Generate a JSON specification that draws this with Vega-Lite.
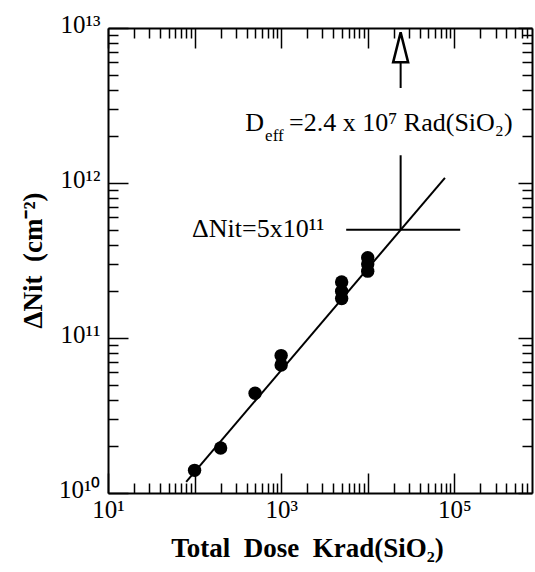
{
  "$schema": "https://vega.github.io/schema/vega-lite/v6.json",
  "width": 424,
  "height": 465,
  "autosize": {"type": "none"},
  "padding": {"left": 108, "top": 28, "right": 3, "bottom": 79},
  "background": "white",
  "config": {
    "font": "Liberation Serif",
    "view": {"stroke": null},
    "axis": {
      "grid": false,
      "domainColor": "black",
      "domainWidth": 2,
      "tickColor": "black",
      "tickWidth": 1.5,
      "labelColor": "black",
      "titleColor": "black",
      "labelFont": "Liberation Serif",
      "titleFont": "Liberation Serif",
      "labelFontSize": 25,
      "labelOverlap": false,
      "labelFlush": false,
      "labelBound": false
    }
  },
  "datasets": {
    "points": [
      {"dose": 100, "nit": 14000000000},
      {"dose": 200, "nit": 19500000000},
      {"dose": 500, "nit": 44000000000},
      {"dose": 1000, "nit": 67000000000},
      {"dose": 1000, "nit": 77000000000},
      {"dose": 5000, "nit": 180000000000},
      {"dose": 5000, "nit": 200000000000},
      {"dose": 5000, "nit": 230000000000},
      {"dose": 10000, "nit": 270000000000},
      {"dose": 10000, "nit": 300000000000},
      {"dose": 10000, "nit": 330000000000}
    ],
    "fit": [
      {"dose": 80, "nit": 11800000000},
      {"dose": 78000, "nit": 1080000000000}
    ],
    "segments": [
      {"x": 5640, "x2": 117000, "y": 500000000000, "y2": 500000000000},
      {"x": 24000, "x2": 24000, "y": 1510000000000, "y2": 500000000000},
      {"x": 24000, "x2": 24000, "y": 6000000000000, "y2": 4100000000000}
    ],
    "arrowhead": [{"x": 24000, "y": 7500000000000}],
    "notes": [
      {"x": 384, "y": 2440000000000, "t": "D", "k": "main"},
      {"x": 653, "y": 2000000000000, "t": "eff", "k": "small"},
      {"x": 1236, "y": 2440000000000, "t": "=2.4 x 10⁷ Rad(SiO₂)", "k": "main"},
      {"x": 93.5, "y": 505000000000, "t": "ΔNit=5x10¹¹", "k": "main"}
    ]
  },
  "layer": [
    {
      "data": {"name": "points"},
      "mark": {"type": "circle", "color": "black", "opacity": 1, "size": 180},
      "encoding": {
        "x": {
          "field": "dose", "type": "quantitative",
          "scale": {"type": "log", "domain": [10, 790000], "nice": false},
          "axis": {
            "orient": "bottom",
            "values": [10,20,30,40,50,60,70,80,90,100,200,300,400,500,600,700,800,900,1000,2000,3000,4000,5000,6000,7000,8000,9000,10000,20000,30000,40000,50000,60000,70000,80000,90000,100000,200000,300000,400000,500000,600000,700000],
            "tickSize": {"condition": {"test": "abs(log(datum.value)/LN10 - round(log(datum.value)/LN10)) < 0.000001", "value": -20}, "value": -10},
            "labelExpr": "datum.value == 10 ? '10¹' : datum.value == 1000 ? '10³' : datum.value == 100000 ? '10⁵' : ''",
            "labelPadding": 24,
            "title": "Total\u2002Dose\u2002Krad(SiO₂)",
            "titleFontSize": 27,
            "titleFontWeight": "bold",
            "titleX": 199,
            "titleY": 55,
            "titleBaseline": "middle",
            "titleAlign": "center"
          }
        },
        "y": {
          "field": "nit", "type": "quantitative",
          "scale": {"type": "log", "domain": [10000000000, 10000000000000], "nice": false},
          "axis": {
            "orient": "left",
            "values": [10000000000,20000000000,30000000000,40000000000,50000000000,60000000000,70000000000,80000000000,90000000000,100000000000,200000000000,300000000000,400000000000,500000000000,600000000000,700000000000,800000000000,900000000000,1000000000000,2000000000000,3000000000000,4000000000000,5000000000000,6000000000000,7000000000000,8000000000000,9000000000000,10000000000000],
            "tickSize": {"condition": {"test": "abs(log(datum.value)/LN10 - round(log(datum.value)/LN10)) < 0.000001", "value": -20}, "value": -10},
            "labelExpr": "datum.value == 10000000000 ? '10¹⁰' : datum.value == 100000000000 ? '10¹¹' : datum.value == 1000000000000 ? '10¹²' : datum.value == 10000000000000 ? '10¹³' : ''",
            "labelPadding": 28,
            "labelOffset": -4,
            "labelBaseline": "middle",
            "title": "ΔNit\u2002(cm⁻²)",
            "titleFontSize": 27,
            "titleFontWeight": "bold",
            "titleX": -75,
            "titleY": 232,
            "titleAngle": -90,
            "titleBaseline": "middle",
            "titleAlign": "center"
          }
        }
      }
    },
    {
      "data": {"name": "fit"},
      "mark": {"type": "line", "color": "black", "strokeWidth": 2},
      "encoding": {
        "x": {
          "field": "dose", "type": "quantitative",
          "scale": {"type": "log", "domain": [10, 790000], "nice": false},
          "axis": {
            "orient": "top",
            "values": [10,20,30,40,50,60,70,80,90,100,200,300,400,500,600,700,800,900,1000,2000,3000,4000,5000,6000,7000,8000,9000,10000,20000,30000,40000,50000,60000,70000,80000,90000,100000,200000,300000,400000,500000,600000,700000],
            "tickSize": {"condition": {"test": "abs(log(datum.value)/LN10 - round(log(datum.value)/LN10)) < 0.000001", "value": -20}, "value": -10},
            "labels": false,
            "title": null
          }
        },
        "y": {
          "field": "nit", "type": "quantitative",
          "scale": {"type": "log", "domain": [10000000000, 10000000000000], "nice": false},
          "axis": {
            "orient": "right",
            "values": [10000000000,20000000000,30000000000,40000000000,50000000000,60000000000,70000000000,80000000000,90000000000,100000000000,200000000000,300000000000,400000000000,500000000000,600000000000,700000000000,800000000000,900000000000,1000000000000,2000000000000,3000000000000,4000000000000,5000000000000,6000000000000,7000000000000,8000000000000,9000000000000,10000000000000],
            "tickSize": {"condition": {"test": "abs(log(datum.value)/LN10 - round(log(datum.value)/LN10)) < 0.000001", "value": -14}, "value": -10},
            "labels": false,
            "title": null
          }
        }
      }
    },
    {
      "data": {"name": "segments"},
      "mark": {"type": "rule", "color": "black", "strokeWidth": 2},
      "encoding": {
        "x": {"field": "x", "type": "quantitative", "scale": {"type": "log", "domain": [10, 790000], "nice": false}, "axis": null},
        "x2": {"field": "x2"},
        "y": {"field": "y", "type": "quantitative", "scale": {"type": "log", "domain": [10000000000, 10000000000000], "nice": false}, "axis": null},
        "y2": {"field": "y2"}
      }
    },
    {
      "data": {"name": "arrowhead"},
      "mark": {"type": "point", "shape": "M0,-1L0.5,1L-0.5,1Z", "filled": false, "stroke": "black", "strokeWidth": 2.5, "size": 900, "opacity": 1},
      "encoding": {
        "x": {"field": "x", "type": "quantitative", "scale": {"type": "log", "domain": [10, 790000], "nice": false}, "axis": null},
        "y": {"field": "y", "type": "quantitative", "scale": {"type": "log", "domain": [10000000000, 10000000000000], "nice": false}, "axis": null}
      }
    },
    {
      "data": {"name": "notes"},
      "mark": {"type": "text", "align": "left", "baseline": "middle", "color": "black", "font": "Liberation Serif"},
      "encoding": {
        "x": {"field": "x", "type": "quantitative", "scale": {"type": "log", "domain": [10, 790000], "nice": false}, "axis": null},
        "y": {"field": "y", "type": "quantitative", "scale": {"type": "log", "domain": [10000000000, 10000000000000], "nice": false}, "axis": null},
        "text": {"field": "t"},
        "size": {"field": "k", "type": "nominal", "scale": {"domain": ["main", "small"], "range": [26, 17]}, "legend": null}
      }
    }
  ],
  "resolve": {"axis": {"x": "independent", "y": "independent"}}
}
